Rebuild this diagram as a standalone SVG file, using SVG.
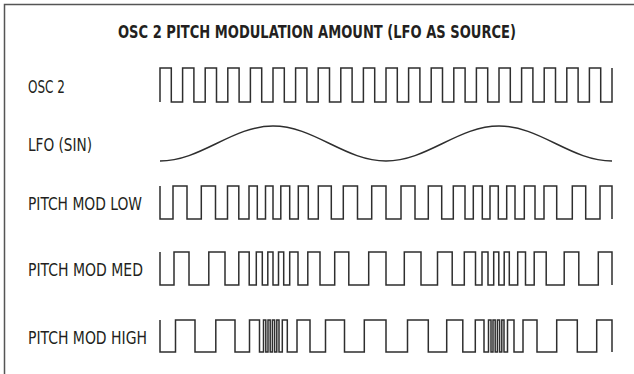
<svg xmlns="http://www.w3.org/2000/svg" width="634" height="374" viewBox="0 0 634 374">
<style>
.lbl{font-family:"Liberation Sans Narrow","DejaVu Sans Condensed","Liberation Sans",sans-serif;font-size:18.5px;fill:#231f20}
.ttl{font-family:"Liberation Sans Narrow","DejaVu Sans Condensed","Liberation Sans",sans-serif;font-size:18.5px;font-weight:bold;fill:#231f20}
.wave{fill:none;stroke:#2e2e2e;stroke-width:1.5;stroke-linejoin:miter}
.frame{fill:none;stroke:#555;stroke-width:1.5}
</style>
<rect width="634" height="374" fill="#fff"/>
<path class="frame" d="M4.5,374 V4.5 H634"/>
<g id="title">
<text class="ttl" x="118" y="37.5" textLength="398" lengthAdjust="spacingAndGlyphs">OSC 2 PITCH MODULATION AMOUNT (LFO AS SOURCE)</text>
</g>
<g id="osc2">
<text class="lbl" x="28" y="92.5" textLength="37" lengthAdjust="spacingAndGlyphs">OSC 2</text>
<path class="wave" d="M160,102 V68 H171.3 V102 H182.6 V68 H193.9 V102 H205.2 V68 H216.5 V102 H227.8 V68 H239.1 V102 H250.4 V68 H261.7 V102 H273 V68 H284.3 V102 H295.6 V68 H306.9 V102 H318.2 V68 H329.5 V102 H340.8 V68 H352.1 V102 H363.4 V68 H374.7 V102 H386 V68 H397.3 V102 H408.6 V68 H419.9 V102 H431.2 V68 H442.5 V102 H453.8 V68 H465.1 V102 H476.4 V68 H487.7 V102 H499 V68 H510.3 V102 H521.6 V68 H532.9 V102 H544.2 V68 H555.5 V102 H566.8 V68 H578.1 V102 H589.4 V68 H600.7 V102 H612 V68"/>
</g>
<g id="lfo">
<text class="lbl" x="28" y="150.5" textLength="64" lengthAdjust="spacingAndGlyphs">LFO (SIN)</text>
<path class="wave" d="M160,161 C180.45,161 198.07,152.47 216.5,143.5 C234.93,134.53 252.55,126 273,126 C293.45,126 311.07,134.53 329.5,143.5 C347.930,152.47 365.55,161 386,161 C406.45,161 424.07,152.47 442.5,143.5 C460.93,134.53 478.55,126 499,126 C519.45,126 537.07,134.53 555.5,143.5 C573.93,152.47 591.55,161 612,161"/>
</g>
<g id="pitch-mod-low">
<text class="lbl" x="28" y="209.5" textLength="114" lengthAdjust="spacingAndGlyphs">PITCH MOD LOW</text>
<path class="wave" d="M160,186 V219 H173 V186 H187 V219 H201.3 V186 H215.5 V219 H227.5 V186 H238.8 V219 H249 V186 H257.3 V219 H265.5 V186 H273 V219 H280.8 V186 H289.7 V219 H298.3 V186 H308.3 V219 H318.3 V186 H331.3 V219 H343.3 V186 H357.5 V219 H371.7 V186 H386 V219 H401 V186 H415 V219 H428.3 V186 H441.7 V219 H453.3 V186 H465 V219 H473.3 V186 H482.3 V219 H490 V186 H498.3 V219 H506.7 V186 H515 V219 H524.3 V186 H535 V219 H544 V186 H556.7 V219 H572.3 V186 H585.7 V219 H600 V186 H612 V219"/>
</g>
<g id="pitch-mod-med">
<text class="lbl" x="28" y="275.5" textLength="115" lengthAdjust="spacingAndGlyphs">PITCH MOD MED</text>
<path class="wave" d="M160,252 V285 H174 V252 H189 V285 H208.8 V252 H225 V285 H238.8 V252 H249.2 V285 H256.3 V252 H262.3 V285 H267.8 V252 H273 V285 H278.5 V252 H283.7 V285 H289.7 V252 H298 V285 H307.8 V252 H320 V285 H334.7 V252 H348.8 V285 H368.7 V252 H386 V285 H404.3 V252 H421 V285 H437.5 V252 H452.2 V285 H464.3 V252 H475.5 V285 H482 V252 H488 V285 H493.7 V252 H498.8 V285 H504.2 V252 H509.3 V285 H517.7 V252 H525.5 V285 H534.2 V252 H546.2 V285 H564.2 V252 H578.8 V285 H598.3 V252 H612 V285"/>
</g>
<g id="pitch-mod-high">
<text class="lbl" x="28" y="343.5" textLength="119" lengthAdjust="spacingAndGlyphs">PITCH MOD HIGH</text>
<path class="wave" d="M160,320 V352 H175.5 V320 H195 V352 H215.8 V320 H235 V352 H249.5 V320 H259.5 V352 H263.5 V320 H265.8 V352 H268 V320 H270.2 V352 H272.4 V320 H274.6 V352 H276.8 V320 H279 V352 H282.3 V320 H287.3 V352 H297 V320 H310 V352 H325.5 V320 H344.5 V352 H364.3 V320 H386 V352 H407.5 V320 H428.3 V352 H446.7 V320 H462.8 V352 H475.3 V320 H484 V352 H488.5 V320 H491 V352 H493 V320 H495.2 V352 H497.4 V320 H499.6 V352 H501.8 V320 H504 V352 H507.5 V320 H514 V352 H523 V320 H537 V352 H556.7 V320 H577.3 V352 H596.7 V320 H612 V352"/>
</g>
<g id="connectors"/>
</svg>
